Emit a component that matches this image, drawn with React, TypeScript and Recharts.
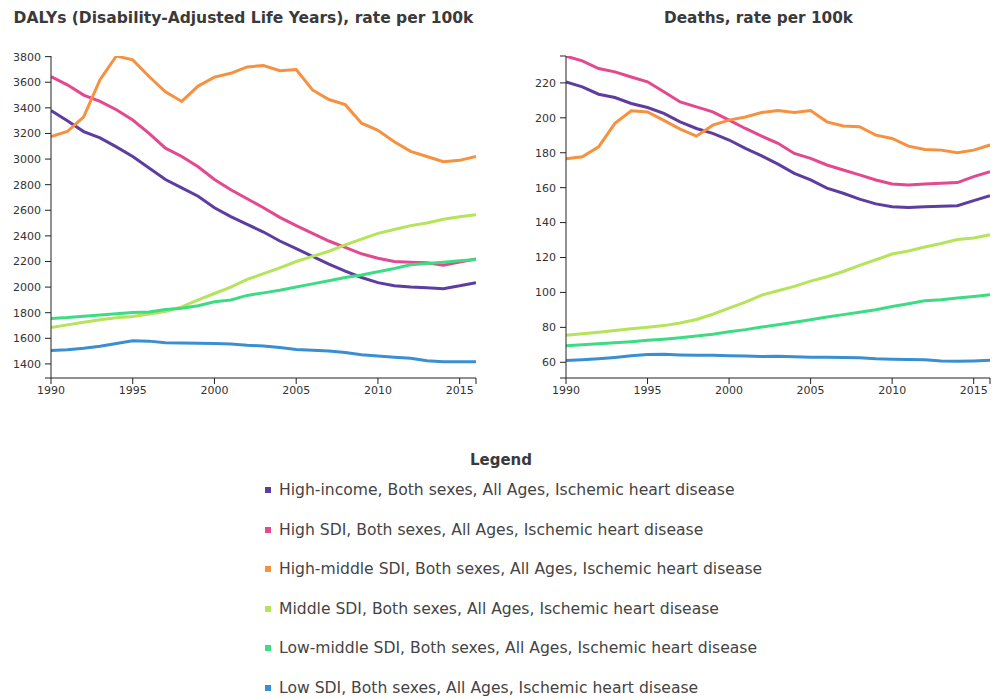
import React from "react";
import { LineChart, Line, XAxis, YAxis } from "recharts";

const years = [1990, 1991, 1992, 1993, 1994, 1995, 1996, 1997, 1998, 1999, 2000, 2001, 2002, 2003, 2004, 2005, 2006, 2007, 2008, 2009, 2010, 2011, 2012, 2013, 2014, 2015, 2016];

const seriesNames = [
  "High-income, Both sexes, All Ages, Ischemic heart disease",
  "High SDI, Both sexes, All Ages, Ischemic heart disease",
  "High-middle SDI, Both sexes, All Ages, Ischemic heart disease",
  "Middle SDI, Both sexes, All Ages, Ischemic heart disease",
  "Low-middle SDI, Both sexes, All Ages, Ischemic heart disease",
  "Low SDI, Both sexes, All Ages, Ischemic heart disease",
];
const seriesKeys = ["highIncome", "highSdi", "highMiddle", "middle", "lowMiddle", "low"];
const seriesColors = ["#5d3da0", "#e4488e", "#f5913f", "#b5e35a", "#3ddc84", "#3a8fd2"];

// DALYs rate per 100k
const dalysHighIncome = [3380, 3300, 3215, 3165, 3095, 3020, 2930, 2840, 2775, 2710, 2620, 2550, 2490, 2430, 2360, 2300, 2240, 2180, 2125, 2075, 2035, 2010, 2000, 1995, 1988, 2010, 2035];
const dalysHighSdi = [3645, 3580, 3500, 3450, 3385, 3305, 3200, 3085, 3020, 2940, 2840, 2760, 2690, 2620, 2545, 2480, 2420, 2360, 2310, 2260, 2225, 2200, 2195, 2190, 2170, 2195, 2220];
const dalysHighMiddle = [3175, 3215, 3330, 3620, 3805, 3775, 3645, 3525, 3450, 3570, 3640, 3670, 3720, 3730, 3690, 3700, 3540, 3465, 3425, 3280, 3225, 3135, 3060, 3020, 2980, 2990, 3020];
const dalysMiddle = [1685, 1705, 1725, 1745, 1760, 1770, 1790, 1810, 1845, 1900, 1950, 2000, 2060, 2105, 2150, 2200, 2240, 2280, 2330, 2375, 2420, 2450, 2480, 2500, 2530, 2550, 2565];
const dalysLowMiddle = [1755, 1762, 1772, 1782, 1792, 1802, 1805, 1825, 1835, 1855, 1885, 1900, 1935, 1955, 1975, 2000, 2025, 2050, 2075, 2095, 2120, 2145, 2175, 2185, 2195, 2205, 2215];
const dalysLow = [1505, 1510, 1522, 1538, 1560, 1580, 1578, 1565, 1563, 1562, 1560, 1555, 1545, 1540, 1528, 1512, 1507, 1500, 1490, 1472, 1462, 1452, 1444, 1425, 1417, 1417, 1416];

// Deaths rate per 100k
const deathsHighIncome = [220.5, 217.7, 213.5, 211.6, 208.2, 205.9, 202.5, 197.7, 193.9, 191.1, 187.3, 182.5, 178.2, 173.5, 168.2, 164.4, 159.7, 156.8, 153.4, 150.7, 149.1, 148.6, 149.1, 149.3, 149.7, 152.6, 155.4];
const deathsHighSdi = [235.3, 232.6, 228.2, 226.3, 223.4, 220.6, 214.9, 209.1, 206.3, 203.4, 198.7, 193.9, 189.5, 185.4, 179.6, 176.8, 173.0, 170.1, 167.3, 164.4, 162.1, 161.5, 162.1, 162.5, 162.9, 166.3, 169.1];
const deathsHighMiddle = [176.5, 177.7, 183.4, 196.8, 204.0, 203.4, 198.5, 193.5, 189.5, 195.8, 198.7, 200.5, 203.0, 204.2, 203.0, 204.2, 197.7, 195.3, 194.9, 190.1, 188.2, 183.8, 181.9, 181.5, 180.0, 181.5, 184.4];
const deathsMiddle = [75.5, 76.3, 77.2, 78.2, 79.2, 80.0, 81.0, 82.5, 84.5, 87.5, 91.0, 94.5, 98.5, 101.0, 103.5, 106.5, 109.0, 112.0, 115.5, 118.7, 122.0, 123.7, 126.0, 128.0, 130.3, 131.2, 133.0];
const deathsLowMiddle = [69.5, 70.0, 70.6, 71.2, 71.8, 72.6, 73.2, 74.0, 75.0, 76.0, 77.5, 78.7, 80.2, 81.5, 82.9, 84.4, 85.9, 87.3, 88.6, 90.1, 92.0, 93.5, 95.2, 95.8, 96.8, 97.7, 98.7];
const deathsLow = [61.0, 61.4, 62.0, 62.8, 63.8, 64.4, 64.6, 64.2, 64.0, 64.0, 63.8, 63.6, 63.3, 63.4, 63.2, 62.9, 62.9, 62.8, 62.6, 62.0, 61.8, 61.6, 61.4, 60.7, 60.6, 60.8, 61.1];

const xTicks = [1990, 1995, 2000, 2005, 2010, 2015, 2016];
const xLabeled = [1990, 1995, 2000, 2005, 2010, 2015];
const dalysDomain = [1290, 3805];
const dalysTicks = [1290, 1400, 1600, 1800, 2000, 2200, 2400, 2600, 2800, 3000, 3200, 3400, 3600, 3800];
const deathsDomain = [51, 235.4];
const deathsTicks = [51, 60, 80, 100, 120, 140, 160, 180, 200, 220, 235.4];

function buildRows(cols: number[][]) {
  return years.map((y, i) => {
    const row: Record<string, number> = { year: y };
    seriesKeys.forEach((k, j) => {
      row[k] = cols[j][i];
    });
    return row;
  });
}

const dalysData = buildRows([dalysHighIncome, dalysHighSdi, dalysHighMiddle, dalysMiddle, dalysLowMiddle, dalysLow]);
const deathsData = buildRows([deathsHighIncome, deathsHighSdi, deathsHighMiddle, deathsMiddle, deathsLowMiddle, deathsLow]);

const FONT = "'DejaVu Sans', Verdana, sans-serif";
const tickStyle = { fill: "#333", fontSize: 11, fontFamily: FONT };
const axisStroke = { stroke: "#222" };

function Panel(props: {
  data: Record<string, number>[];
  domain: number[];
  yTicks: number[];
  labeled: (v: number) => boolean;
  width: number;
  margin: { top: number; right: number; bottom: number; left: number };
}) {
  return (
    <LineChart width={props.width} height={420} data={props.data} margin={props.margin}>
      <XAxis
        dataKey="year"
        type="number"
        domain={[1990, 2016]}
        ticks={xTicks}
        interval={0}
        allowDataOverflow
        tickFormatter={(v: number) => (xLabeled.includes(v) ? String(v) : "")}
        tick={tickStyle}
        tickLine={axisStroke}
        axisLine={axisStroke}
        tickSize={6}
        height={30}
      />
      <YAxis
        type="number"
        domain={props.domain}
        ticks={props.yTicks}
        interval={0}
        allowDataOverflow
        tickFormatter={(v: number) => (props.labeled(v) ? String(v) : "")}
        tick={tickStyle}
        tickLine={axisStroke}
        axisLine={axisStroke}
        tickSize={6}
        tickMargin={4}
        width={40}
      />
      {seriesKeys.map((k, j) => (
        <Line
          key={k}
          type="linear"
          dataKey={k}
          stroke={seriesColors[j]}
          strokeWidth={3}
          dot={false}
          isAnimationActive={false}
        />
      ))}
    </LineChart>
  );
}

export default function App() {
  return (
    <div
      style={{
        position: "absolute",
        left: 0,
        top: 0,
        width: 1002,
        height: 699,
        background: "#fff",
        fontFamily: FONT,
        color: "#333",
        overflow: "hidden",
      }}
    >
      <div style={{ position: "absolute", left: 0, top: 9, width: 487, textAlign: "center", fontWeight: "bold", fontSize: 15.5, color: "#3a3a3a" }}>
        DALYs (Disability-Adjusted Life Years), rate per 100k
      </div>
      <div style={{ position: "absolute", left: 520, top: 9, width: 477, textAlign: "center", fontWeight: "bold", fontSize: 15.3, color: "#3a3a3a" }}>
        Deaths, rate per 100k
      </div>
      <div style={{ position: "absolute", left: 0, top: 0 }}>
        <Panel
          data={dalysData}
          domain={dalysDomain}
          yTicks={dalysTicks}
          labeled={(v) => v >= 1400}
          width={500}
          margin={{ top: 56, right: 24, bottom: 12, left: 11 }}
        />
      </div>
      <div style={{ position: "absolute", left: 520, top: 0 }}>
        <Panel
          data={deathsData}
          domain={deathsDomain}
          yTicks={deathsTicks}
          labeled={(v) => v >= 60 && v <= 220}
          width={480}
          margin={{ top: 56, right: 10, bottom: 12, left: 6 }}
        />
      </div>
      <div style={{ position: "absolute", left: 0, top: 451, width: 1002, textAlign: "center", fontWeight: "bold", fontSize: 15, color: "#3a3a3a" }}>
        Legend
      </div>
      <div style={{ position: "absolute", left: 265, top: 479 }}>
        {seriesNames.map((name, j) => (
          <div key={name} style={{ height: 39.6, display: "flex", alignItems: "flex-start", whiteSpace: "nowrap" }}>
            <span style={{ display: "inline-block", width: 6, height: 6, background: seriesColors[j], marginTop: 8, marginRight: 8 }} />
            <span style={{ fontSize: 15.6, color: "#444", lineHeight: "22px" }}>{name}</span>
          </div>
        ))}
      </div>
    </div>
  );
}
